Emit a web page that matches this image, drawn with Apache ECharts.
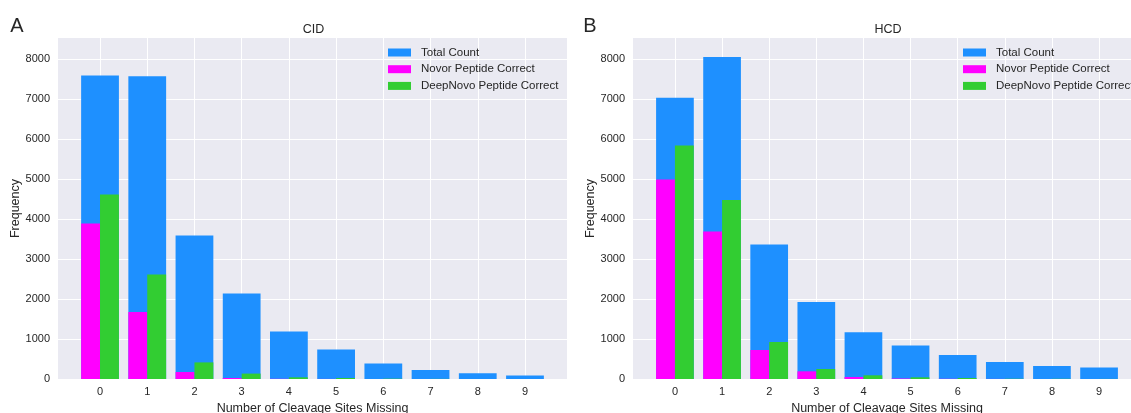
<!DOCTYPE html>
<html>
<head>
<meta charset="utf-8">
<script src="https://cdn.jsdelivr.net/npm/echarts@6/dist/echarts.min.js"></script>
<style>
  html, body { margin: 0; padding: 0; background: #fff; }
  #chart { width: 1131px; height: 413px; }
</style>
</head>
<body>
<div id="chart"></div>
<script>
var sites = [0, 1, 2, 3, 4, 5, 6, 7, 8, 9];
var yTicks = [0, 1000, 2000, 3000, 4000, 5000, 6000, 7000, 8000];

// CID panel
var cidTotal = [7590, 7570, 3590, 2135, 1190, 735, 385, 225, 142, 85];
var cidNovor = [3885, 1675, 175, 25, 5, 2, 0, 0, 0, 0];
var cidDeepNovo = [4615, 2615, 415, 135, 42, 25, 8, 3, 0, 0];

// HCD panel
var hcdTotal = [7030, 8050, 3365, 1925, 1167, 835, 600, 425, 325, 285];
var hcdNovor = [4990, 3690, 725, 192, 50, 12, 5, 2, 0, 0];
var hcdDeepNovo = [5840, 4475, 925, 250, 92, 42, 25, 6, 5, 2];

var xMin = -0.89, xMax = 9.89, yMax = 8525;
var panels = [
  { left: 58, width: 509, title: 'CID', tag: 'A', tagX: 12, legendLeft: 388,
    total: cidTotal, novor: cidNovor, deep: cidDeepNovo },
  { left: 633, width: 508, title: 'HCD', tag: 'B', tagX: 585, legendLeft: 963,
    total: hcdTotal, novor: hcdNovor, deep: hcdDeepNovo }
];

var textColor = '#262626';
var font = 'Liberation Sans, Arial, sans-serif';
var plain = function (v) { return String(v); };

var grids = [], xAxes = [], yAxes = [], series = [], titles = [], legends = [];

panels.forEach(function (p, gi) {
  var unit = p.width / (xMax - xMin);
  var full = unit * 0.8, half = unit * 0.4;
  grids.push({
    left: p.left, top: 38, width: p.width, height: 341,
    outerBoundsMode: 'none', containLabel: false,
    show: true, backgroundColor: '#EAEAF2', borderWidth: 0
  });
  // visible x axis + two hidden ones for the half-width bars
  for (var k = 0; k < 3; k++) {
    xAxes.push({
      type: 'value', gridIndex: gi, min: xMin, max: xMax,
      show: k === 0,
      name: 'Number of Cleavage Sites Missing',
      nameLocation: 'middle', nameGap: 21,
      nameTextStyle: { color: textColor, fontSize: 12.5, fontFamily: font },
      axisLine: { show: false },
      axisTick: { show: false, customValues: sites },
      axisLabel: { customValues: sites, formatter: plain, color: textColor, fontSize: 11, fontFamily: font, margin: 7 },
      splitLine: { show: true, lineStyle: { color: '#fff', width: 1 } }
    });
  }
  yAxes.push({
    type: 'value', gridIndex: gi, min: 0, max: yMax,
    name: 'Frequency', nameLocation: 'middle', nameGap: 36,
    nameTextStyle: { color: textColor, fontSize: 12.5, fontFamily: font },
    axisLine: { show: false },
    axisTick: { show: false, customValues: yTicks },
    axisLabel: { customValues: yTicks, formatter: plain, color: textColor, fontSize: 11, fontFamily: font, margin: 8 },
    splitLine: { show: true, lineStyle: { color: '#fff', width: 1 } }
  });
  series.push({
    name: 'Total Count', type: 'bar', xAxisIndex: gi * 3, yAxisIndex: gi,
    barWidth: full, itemStyle: { color: '#1E90FF' },
    data: sites.map(function (s, i) { return [s, p.total[i]]; })
  }, {
    name: 'Novor Peptide Correct', type: 'bar', xAxisIndex: gi * 3 + 1, yAxisIndex: gi,
    barWidth: half, itemStyle: { color: '#FF00FF' },
    data: sites.map(function (s, i) { return [s - 0.2, p.novor[i]]; })
  }, {
    name: 'DeepNovo Peptide Correct', type: 'bar', xAxisIndex: gi * 3 + 2, yAxisIndex: gi,
    barWidth: half, itemStyle: { color: '#32CD32' },
    data: sites.map(function (s, i) { return [s + 0.2, p.deep[i]]; })
  });
  titles.push({
    text: p.title, left: p.left + p.width / 2 - 4, top: 18, textAlign: 'center',
    textStyle: { color: textColor, fontSize: 12.5, fontWeight: 'normal', fontFamily: font }
  }, {
    text: p.tag, left: p.tagX, top: 11, textAlign: 'center',
    textStyle: { color: textColor, fontSize: 20, fontWeight: 'normal', fontFamily: font }
  });
  legends.push({
    orient: 'vertical', left: p.legendLeft, top: 46, padding: 0,
    itemWidth: 23, itemHeight: 8, itemGap: 3.7, icon: 'rect',
    selectedMode: false,
    data: ['Total Count', 'Novor Peptide Correct', 'DeepNovo Peptide Correct'],
    textStyle: { color: textColor, fontSize: 11.5, fontFamily: font, lineHeight: 13, padding: [0, 0, 0, 5] }
  });
});

var myChart = echarts.init(document.getElementById('chart'), null, { renderer: 'canvas' });
myChart.setOption({
  backgroundColor: '#fff',
  animation: false,
  title: titles,
  legend: legends,
  grid: grids,
  xAxis: xAxes,
  yAxis: yAxes,
  series: series
});
</script>
</body>
</html>
